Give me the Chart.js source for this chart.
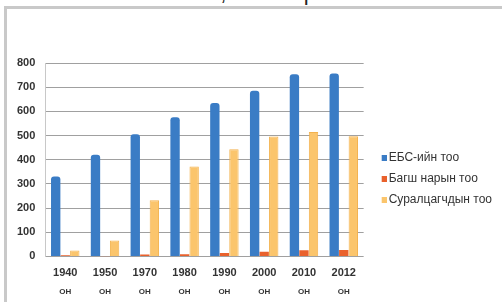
<!DOCTYPE html>
<html>
<head>
<meta charset="utf-8">
<script src="https://cdn.jsdelivr.net/npm/chart.js@4.4.1/dist/chart.umd.min.js"></script>
<style>
  html, body { margin:0; padding:0; background:#fff; overflow:hidden; }
  #wrap { position:relative; width:502px; height:302px; overflow:hidden; background:#fff; }
  #frame { position:absolute; left:4px; top:6px; width:600px; height:400px; border:3px solid #c9c9c9; box-sizing:border-box; }
  #title { position:absolute; left:0; width:502px; top:-18px; text-align:center; font-family:"Liberation Sans", Arial, sans-serif; font-size:22px; line-height:22px; color:#222; }
  canvas#c { position:absolute; left:0; top:0; }
</style>
</head>
<body>
<div id="wrap">
  <div id="title">тоо, мянгаар</div>
  <div id="frame"></div>
  <canvas id="c" width="502" height="302"></canvas>
</div>
<script>
const years = ["1940", "1950", "1970", "1980", "1990", "2000", "2010", "2012"];
const unitLabels = ["ОН", "ОН", "ОН", "ОН", "ОН", "ОН", "ОН", "ОН"];
const seriesNames = ["ЕБС-ийн тоо", "Багш нарын тоо", "Суралцагчдын тоо"];
const schools = [331, 420, 505, 576, 635, 685, 753, 757];
const teachers = [5, 1, 8, 9, 14, 19, 25, 26];
const students = [24, 66, 232, 372, 443, 496, 515, 497];
const yTicks = [0, 100, 200, 300, 400, 500, 600, 700, 800];

const font = '"Liberation Sans", Arial, sans-serif';
const colors = ['#3a7cc5', '#e9612c', '#fbc56c'];

// legend swatch: small square offset to the right of the swatch centre
function swatch(color) {
  const cv = document.createElement('canvas');
  cv.width = 18; cv.height = 6;
  const g = cv.getContext('2d');
  g.fillStyle = color;
  g.fillRect(13, 0, 5, 6);
  return cv;
}

new Chart(document.getElementById('c'), {
  type: 'bar',
  data: {
    labels: years,
    datasets: [
      { label: seriesNames[0], data: schools, backgroundColor: colors[0], pointStyle: swatch(colors[0]), borderWidth: 0, borderRadius: {topLeft: 3, topRight: 3}, borderSkipped: 'bottom', barPercentage: 0.98, categoryPercentage: 0.72 },
      { label: seriesNames[1], data: teachers, backgroundColor: colors[1], pointStyle: swatch(colors[1]), borderWidth: 0, barPercentage: 0.98, categoryPercentage: 0.72 },
      { label: seriesNames[2], data: students, backgroundColor: colors[2], pointStyle: swatch(colors[2]), borderColor: '#f3b24e', borderWidth: 1, borderSkipped: 'bottom', barPercentage: 0.98, categoryPercentage: 0.72 }
    ]
  },
  options: {
    responsive: false,
    animation: false,
    layout: { padding: { top: 63, left: 7, right: 0, bottom: 7 } },
    plugins: {
      legend: {
        position: 'right',
        align: 'center',
        maxWidth: 200,
        labels: {
          usePointStyle: true, pointStyleWidth: 10,
          boxWidth: 10, boxHeight: 6, padding: 9,
          color: '#333',
          font: { family: font, size: 12 }
        }
      },
      tooltip: { enabled: false },
      title: { display: false }
    },
    scales: {
      x: {
        grid: { display: false },
        border: { display: false },
        ticks: { color: '#333', padding: 3, font: { family: font, size: 11, weight: 'bold', lineHeight: 1 } }
      },
      x2: {
        type: 'category',
        labels: unitLabels,
        position: 'bottom',
        offset: true,
        grid: { display: false },
        border: { display: false },
        ticks: { color: '#333', padding: -2, font: { family: font, size: 8, weight: 'bold' } }
      },
      y: {
        min: 0, max: 800,
        afterBuildTicks: (axis) => { axis.ticks = yTicks.map(v => ({ value: v })); },
        grid: { color: '#a0a0a0', lineWidth: 1, drawTicks: false },
        border: { display: true, color: '#c8c8c8' },
        ticks: { color: '#333', padding: 10, font: { family: font, size: 11, weight: 'bold' } }
      }
    }
  }
});
</script>
</body>
</html>
